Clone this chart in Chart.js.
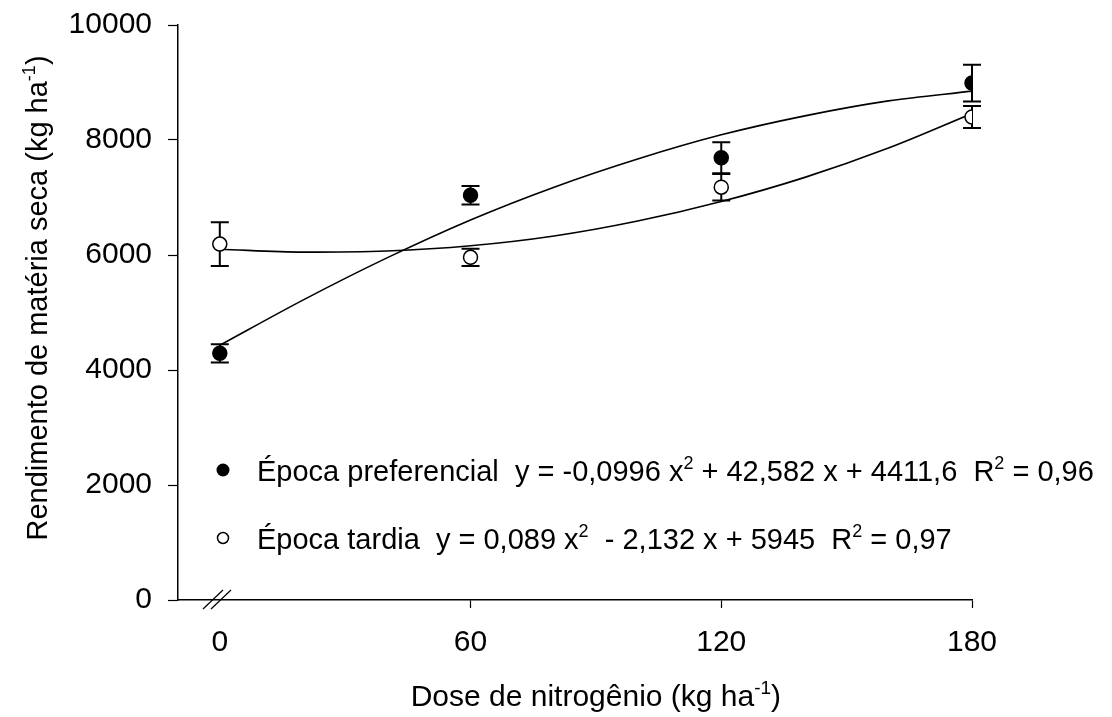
<!DOCTYPE html>
<html>
<head>
<meta charset="utf-8">
<script src="https://cdn.jsdelivr.net/npm/chart.js@4.4.1/dist/chart.umd.min.js"></script>
<style>
  html, body { margin: 0; padding: 0; background: #fff; }
  #wrap { width: 1112px; height: 717px; }
</style>
</head>
<body>
<div id="wrap"><canvas id="chart" width="1112" height="717"></canvas></div>
<script>
// nitrogen doses (kg/ha) and means with error bars
const doses = [0, 60, 120, 180];
const prefMeans = [4290, 7040, 7690, 8990];
const prefErr = [160, 160, 270, 320];
const tardMeans = [6190, 5960, 7180, 8400];
const tardErr = [380, 150, 230, 190];

// fitted curves
const curveX = [0, 20, 40, 60, 80, 100, 120, 140, 160, 180];
const prefCurve = [4430, 5220, 5950, 6610, 7180, 7670, 8090, 8420, 8680, 8850];
const tardCurve = [6100, 6050, 6070, 6160, 6330, 6590, 6930, 7350, 7860, 8460];

const xTicks = [0, 60, 120, 180];
const yTicks = [0, 2000, 4000, 6000, 8000, 10000];

const FONT = '"Liberation Sans", Arial, sans-serif';

const toXY = (xs, ys) => xs.map((x, i) => ({ x: x, y: ys[i] }));

// draws text with superscript parts, returns width
function richText(ctx, parts, x, y, size, measureOnly) {
  let cx = x;
  parts.forEach(p => {
    const sup = p[1];
    const fs = sup ? Math.round(size * 0.62) : size;
    ctx.font = fs + 'px ' + FONT;
    if (!measureOnly) ctx.fillText(p[0], cx, sup ? y - size * 0.4 : y);
    cx += ctx.measureText(p[0]).width;
  });
  return cx - x;
}

const extras = {
  id: 'extras',
  beforeDatasetsDraw(chart) {
    const ctx = chart.ctx;
    const xs = chart.scales.x, ys = chart.scales.y;
    ctx.save();
    ctx.strokeStyle = '#000';
    ctx.lineWidth = 2;
    const bars = (means, errs) => {
      doses.forEach((d, i) => {
        const px = xs.getPixelForValue(d);
        const top = ys.getPixelForValue(means[i] + errs[i]);
        const bot = ys.getPixelForValue(means[i] - errs[i]);
        ctx.beginPath();
        ctx.moveTo(px, top); ctx.lineTo(px, bot);
        ctx.moveTo(px - 9, top); ctx.lineTo(px + 9, top);
        ctx.moveTo(px - 9, bot); ctx.lineTo(px + 9, bot);
        ctx.stroke();
      });
    };
    bars(prefMeans, prefErr);
    bars(tardMeans, tardErr);
    ctx.restore();
  },
  afterDraw(chart) {
    const ctx = chart.ctx;
    const xs = chart.scales.x, ys = chart.scales.y;
    ctx.save();
    ctx.fillStyle = '#000';
    ctx.strokeStyle = '#000';
    ctx.textBaseline = 'alphabetic';

    // axis break on x axis
    const by = ys.getPixelForValue(0);
    ctx.lineWidth = 1.2;
    [203, 211].forEach(bx => {
      ctx.beginPath();
      ctx.moveTo(bx, by + 9);
      ctx.lineTo(bx + 20, by - 10);
      ctx.stroke();
    });

    // x title
    const xParts = [['Dose de nitrogênio (kg ha', false], ['-1', true], [')', false]];
    const xw = richText(ctx, xParts, 0, 0, 30, true);
    const xc = (xs.getPixelForValue(0) + xs.getPixelForValue(180)) / 2;
    richText(ctx, xParts, xc - xw / 2, 706, 30);

    // y title
    const yParts = [['Rendimento de matéria seca (kg ha', false], ['-1', true], [')', false]];
    const yw = richText(ctx, yParts, 0, 0, 29, true);
    ctx.save();
    ctx.translate(47, 298);
    ctx.rotate(-Math.PI / 2);
    richText(ctx, yParts, -yw / 2, 0, 29);
    ctx.restore();

    // legend inside plot
    const rows = [
      { y: 470, filled: true, parts: [['Época preferencial  y = -0,0996 x', false], ['2', true], [' + 42,582 x + 4411,6  R', false], ['2', true], [' = 0,96', false]] },
      { y: 538, filled: false, parts: [['Época tardia  y = 0,089 x', false], ['2', true], ['  - 2,132 x + 5945  R', false], ['2', true], [' = 0,97', false]] }
    ];
    rows.forEach(r => {
      ctx.beginPath();
      ctx.arc(223, r.y, r.filled ? 6.5 : 5.5, 0, Math.PI * 2);
      if (r.filled) { ctx.fill(); }
      else { ctx.lineWidth = 1.5; ctx.fillStyle = '#fff'; ctx.fill(); ctx.stroke(); ctx.fillStyle = '#000'; }
      richText(ctx, r.parts, 257, r.y + 11, 29);
    });
    ctx.restore();
  }
};

new Chart(document.getElementById('chart'), {
  type: 'scatter',
  data: {
    datasets: [
      {
        label: 'Época preferencial',
        data: toXY(doses, prefMeans),
        pointRadius: 7,
        pointBackgroundColor: '#000',
        pointBorderColor: '#000',
        pointBorderWidth: 1.5,
        order: 0
      },
      {
        label: 'Época tardia',
        data: toXY(doses, tardMeans),
        pointRadius: 7,
        pointBackgroundColor: '#fff',
        pointBorderColor: '#000',
        pointBorderWidth: 1.5,
        order: 0
      },
      {
        label: 'ajuste preferencial',
        data: toXY(curveX, prefCurve),
        showLine: true,
        borderColor: '#000',
        borderWidth: 1.6,
        pointRadius: 0,
        cubicInterpolationMode: 'monotone',
        order: 2
      },
      {
        label: 'ajuste tardia',
        data: toXY(curveX, tardCurve),
        showLine: true,
        borderColor: '#000',
        borderWidth: 1.6,
        pointRadius: 0,
        cubicInterpolationMode: 'monotone',
        order: 2
      }
    ]
  },
  options: {
    responsive: false,
    animation: false,
    layout: { padding: { left: 0, right: 140, top: 25, bottom: 0 } },
    plugins: {
      legend: { display: false },
      tooltip: { enabled: false }
    },
    scales: {
      x: {
        type: 'linear',
        min: -10,
        max: 180,
        afterFit: s => { s.height = 117; },
        afterBuildTicks: s => { s.ticks = xTicks.map(v => ({ value: v })); },
        border: { display: true, color: '#000', width: 1.5 },
        grid: {
          drawOnChartArea: false,
          drawTicks: true,
          tickLength: 8,
          tickWidth: 1.2,
          tickColor: c => (c.tick && c.tick.value === 0) ? 'rgba(0,0,0,0)' : '#000'
        },
        ticks: {
          color: '#000',
          padding: 17,
          maxRotation: 0,
          callback: v => String(v),
          font: { family: FONT, size: 30 }
        }
      },
      y: {
        min: 0,
        max: 10000,
        afterFit: s => { s.width = 178; s.paddingTop = 0; s.paddingBottom = 0; },
        afterBuildTicks: s => { s.ticks = yTicks.map(v => ({ value: v })); },
        border: { display: true, color: '#000', width: 1.5 },
        grid: {
          drawOnChartArea: false,
          drawTicks: true,
          tickLength: 10,
          tickWidth: 1.2,
          tickColor: '#000'
        },
        ticks: {
          color: '#000',
          padding: 16,
          callback: v => String(v),
          font: { family: FONT, size: 30, lineHeight: 0.6 }
        }
      }
    }
  },
  plugins: [extras]
});
</script>
</body>
</html>
